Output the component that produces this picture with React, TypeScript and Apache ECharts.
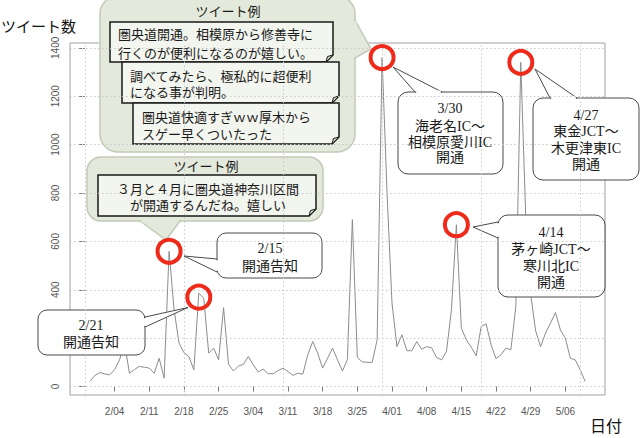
import React, { useEffect, useRef } from "react";
import * as echarts from "echarts";

// ---- data ----
const dates = [
  "1/30", "1/31",
  "2/01", "2/02", "2/03", "2/04", "2/05", "2/06", "2/07", "2/08", "2/09", "2/10",
  "2/11", "2/12", "2/13", "2/14", "2/15", "2/16", "2/17", "2/18", "2/19", "2/20",
  "2/21", "2/22", "2/23", "2/24", "2/25", "2/26", "2/27", "2/28",
  "3/01", "3/02", "3/03", "3/04", "3/05", "3/06", "3/07", "3/08", "3/09", "3/10",
  "3/11", "3/12", "3/13", "3/14", "3/15", "3/16", "3/17", "3/18", "3/19", "3/20",
  "3/21", "3/22", "3/23", "3/24", "3/25", "3/26", "3/27", "3/28", "3/29", "3/30", "3/31",
  "4/01", "4/02", "4/03", "4/04", "4/05", "4/06", "4/07", "4/08", "4/09", "4/10",
  "4/11", "4/12", "4/13", "4/14", "4/15", "4/16", "4/17", "4/18", "4/19", "4/20",
  "4/21", "4/22", "4/23", "4/24", "4/25", "4/26", "4/27", "4/28", "4/29", "4/30",
  "5/01", "5/02", "5/03", "5/04", "5/05", "5/06", "5/07", "5/08", "5/09", "5/10",
];

const tweets = [
  21, 45, 58, 52, 48, 70, 110, 180, 55, 70,
  83, 80, 76, 55, 117, 35, 559, 320, 180, 140,
  124, 69, 386, 365, 138, 159, 110, 326, 92, 64,
  85, 92, 124, 90, 60, 72, 53, 53, 66, 76,
  62, 46, 55, 51, 131, 186, 138, 76, 117, 159,
  110, 64, 112, 690, 120, 102, 100, 100, 193, 1360,
  800, 345, 165, 214, 148, 148, 186, 154, 165, 160,
  120, 110, 145, 317, 669, 241, 193, 163, 127, 248,
  259, 172, 115, 131, 159, 152, 331, 1340, 700, 380,
  230, 165, 221, 262, 306, 234, 200, 117, 110, 69, 21,
];

const xTickLabels = ["2/04", "2/11", "2/18", "2/25", "3/04", "3/11", "3/18", "3/25", "4/01", "4/08", "4/15", "4/22", "4/29", "5/06"];
const yTicks = [0, 200, 400, 600, 800, 1000, 1200, 1400];
const gridDays = [0, 20, 40, 60, 80, 100]; // day index (1/29 = 0)
const highlightDates = ["2/15", "2/21", "3/30", "4/14", "4/27"];

const tweetExamplesA = [
  ["圏央道開通。相模原から修善寺に", "行くのが便利になるのが嬉しい。"],
  ["調べてみたら、極私的に超便利", "になる事が判明。"],
  ["圏央道快適すぎｗｗ厚木から", "スゲー早くついたった"],
];
const tweetExampleB = ["３月と４月に圏央道神奈川区間", "が開通するんだね。嬉しい"];

// ---- styles ----
const SANS = "'Noto Sans CJK JP', 'Noto Sans', sans-serif";
const SERIF = "'Liberation Serif', 'DejaVu Serif', 'Noto Sans CJK JP', serif";
const BUBBLE_FILL = "#e4eadb";
const BUBBLE_STROKE = "#c3c9b8";
const NOTE_FILL = "#f3f5ef";
const BOX_STROKE = "#4a4a4a";
const RED = "#ee2b1b";

type Pt = [number, number];

function callout(box: number[], tail: [Pt, Pt, Pt], fill: string, stroke: string, lw: number, z: number) {
  const [x, y, w, h, r] = box;
  const [b1, tip, b2] = tail;
  const dx = b2[0] - b1[0];
  const dy = b2[1] - b1[1];
  const len = Math.hypot(dx, dy);
  const ux = dx / len;
  const uy = dy / len;
  return [
    { type: "rect", z, shape: { x, y, width: w, height: h, r }, style: { fill, stroke, lineWidth: lw } },
    { type: "polygon", z, shape: { points: [b1, tip, b2] }, style: { fill, stroke, lineWidth: lw } },
    {
      type: "line", z,
      shape: { x1: b1[0] + ux * 1.2, y1: b1[1] + uy * 1.2, x2: b2[0] - ux * 1.2, y2: b2[1] - uy * 1.2 },
      style: { stroke: fill, lineWidth: lw + 2 },
    },
  ];
}

function note(x: number, y: number, w: number, h: number, z: number) {
  const c = 7;
  return [
    {
      type: "polygon", z,
      shape: { points: [[x, y], [x + w, y], [x + w, y + h - c], [x + w - c, y + h], [x, y + h]] },
      style: { fill: NOTE_FILL, stroke: "#1a1a1a", lineWidth: 1.5 },
    },
    {
      type: "polygon", z,
      shape: { points: [[x + w, y + h - c], [x + w - c, y + h], [x + w - 5.5, y + h - 5.5]] },
      style: { fill: "#cfd4c6", stroke: "#1a1a1a", lineWidth: 1 },
    },
  ];
}

function txt(text: string, x: number, y: number, size: number, family: string, align = "center", z = 6, fill = "#1a1a1a") {
  return {
    type: "text", z, x, y,
    style: { text, fill, font: `${size}px ${family}`, align, verticalAlign: "middle" },
  };
}

function txt2(lines: string[], x: number, y: number, size: number, lh: number, align = "left") {
  return {
    type: "text", z: 6, x, y,
    style: {
      text: lines.join("\n"), fill: "#1a1a1a", fontSize: size, fontFamily: SANS,
      lineHeight: lh, align, verticalAlign: "middle",
    },
  };
}

export default function App() {
  const ref = useRef<HTMLDivElement>(null);

  useEffect(() => {
    if (!ref.current) return;
    const chart = echarts.init(ref.current, undefined, { renderer: "svg" });

    const seriesData = tweets.map((v, i) => [i + 1, v]);
    const tickDays = xTickLabels.map((t) => dates.indexOf(t) + 1);
    const highlights = highlightDates.map((d) => {
      const idx = dates.indexOf(d);
      return { coord: [idx + 1, tweets[idx]], symbolOffset: d === "2/21" ? [0, 4] : [0, 0] };
    });

    const graphics: any[] = [];
    // axis titles
    graphics.push(txt("ツイート数", 76, 25, 15, SANS, "right", 6, "#111"));
    graphics.push(txt("日付", 606, 425, 16, SANS, "center", 6, "#111"));

    // big tweet bubble (top)
    graphics.push(...callout([100, -4, 255, 156, 18], [[355, 20], [371, 49], [355, 58]], BUBBLE_FILL, BUBBLE_STROKE, 1.5, 3));
    graphics.push(txt("ツイート例", 228, 10, 13, SANS));
    graphics.push(...note(110, 22, 223, 40, 4));
    graphics.push(...note(122, 62, 217, 41, 4));
    graphics.push(...note(133, 103, 206, 41, 4));
    graphics.push(txt2(tweetExamplesA[0], 118, 42.5, 13, 19));
    graphics.push(txt2(tweetExamplesA[1], 130, 83.5, 13, 16.5));
    graphics.push(txt2(tweetExamplesA[2], 142, 124.5, 13, 17));

    // second tweet bubble
    graphics.push(...callout([87, 157, 236, 64, 14], [[140, 221], [166, 240], [180, 221]], BUBBLE_FILL, BUBBLE_STROKE, 1.5, 3));
    graphics.push(txt("ツイート例", 206, 165, 13, SANS));
    graphics.push(...note(98, 175, 218, 41, 4));
    graphics.push(txt2(tweetExampleB, 208, 196.5, 13, 16.5, "center"));

    // event callouts
    graphics.push(...callout([217, 233, 105, 45, 9], [[217, 259], [184, 256], [217, 272]], "#ffffff", BOX_STROKE, 1, 3));
    graphics.push(txt("2/15", 270, 248, 14, SERIF));
    graphics.push(txt("開通告知", 270, 265, 14, SANS));

    graphics.push(...callout([38, 310, 107, 45, 9], [[145, 317], [188, 307.5], [145, 327]], "#ffffff", BOX_STROKE, 1, 3));
    graphics.push(txt("2/21", 91, 325, 14, SERIF));
    graphics.push(txt("開通告知", 91, 341, 14, SANS));

    graphics.push(...callout([398, 92, 105, 82, 10], [[415, 92], [393, 67], [442, 92]], "#ffffff", BOX_STROKE, 1, 3));
    graphics.push(txt("3/30", 450, 108, 14, SERIF));
    graphics.push(txt("海老名IC〜", 450, 126, 14, SERIF));
    graphics.push(txt("相模原愛川IC", 450, 142, 14, SERIF));
    graphics.push(txt("開通", 450, 157, 14, SERIF));

    graphics.push(...callout([533, 98, 106, 82, 10], [[550, 98], [535, 69], [577, 98]], "#ffffff", BOX_STROKE, 1, 3));
    graphics.push(txt("4/27", 586, 115, 14, SERIF));
    graphics.push(txt("東金JCT〜", 586, 131, 14, SERIF));
    graphics.push(txt("木更津東IC", 586, 148, 14, SERIF));
    graphics.push(txt("開通", 586, 164, 14, SERIF));

    graphics.push(...callout([498, 215, 107, 82, 10], [[498, 222], [473, 227], [498, 238]], "#ffffff", BOX_STROKE, 1, 3));
    graphics.push(txt("4/14", 551, 232, 14, SERIF));
    graphics.push(txt("茅ヶ崎JCT〜", 551, 249, 14, SERIF));
    graphics.push(txt("寒川北IC", 551, 266, 14, SERIF));
    graphics.push(txt("開通", 551, 282, 14, SERIF));

    chart.setOption({
      animation: false,
      backgroundColor: "#ffffff",
      grid: { left: 70, right: 37, top: 43, bottom: 43, show: true, borderColor: "#a0a0a0", borderWidth: 1, backgroundColor: "transparent" },
      xAxis: {
        type: "value",
        min: -3,
        max: 105,
        axisLine: { show: false },
        splitLine: { show: false },
        axisTick: { show: true, customValues: tickDays, length: 5, lineStyle: { color: "#777" } },
        axisLabel: {
          customValues: tickDays,
          formatter: (v: number) => dates[Math.round(v) - 1] ?? "",
          fontSize: 10,
          color: "#555",
          fontFamily: "'Liberation Sans', Arial, sans-serif",
          margin: 11,
        },
      },
      yAxis: {
        type: "value",
        min: -35,
        max: 1420,
        axisLine: { show: false },
        splitLine: { show: false },
        axisTick: { show: true, customValues: yTicks, length: 6, lineStyle: { color: "#777" } },
        axisLabel: {
          customValues: yTicks,
          formatter: (v: number) => String(v),
          rotate: 90,
          fontSize: 10,
          color: "#555",
          fontFamily: "'Liberation Sans', Arial, sans-serif",
          margin: 10,
        },
      },
      series: [
        {
          type: "line",
          data: [],
          z: 1,
          silent: true,
          markLine: {
            silent: true,
            symbol: ["none", "none"],
            label: { show: false },
            lineStyle: { color: "#c8c8c8", type: [1.5, 2.5], width: 1 },
            data: [...yTicks.map((v) => ({ yAxis: v })), ...gridDays.map((d) => ({ xAxis: d }))],
          },
        },
        {
          type: "line",
          data: seriesData,
          z: 2,
          showSymbol: false,
          silent: true,
          lineStyle: { color: "#8c8c8c", width: 1 },
          markPoint: {
            z: 5,
            symbol: "circle",
            symbolSize: 23,
            silent: true,
            label: { show: false },
            itemStyle: { color: "rgba(0,0,0,0)", borderColor: RED, borderWidth: 4 },
            data: highlights,
          },
        },
      ],
      graphic: { elements: graphics },
    });

    return () => chart.dispose();
  }, []);

  return (
    <div
      ref={ref}
      style={{ position: "fixed", left: 0, top: 0, width: 642, height: 438, background: "#fff" }}
    />
  );
}
